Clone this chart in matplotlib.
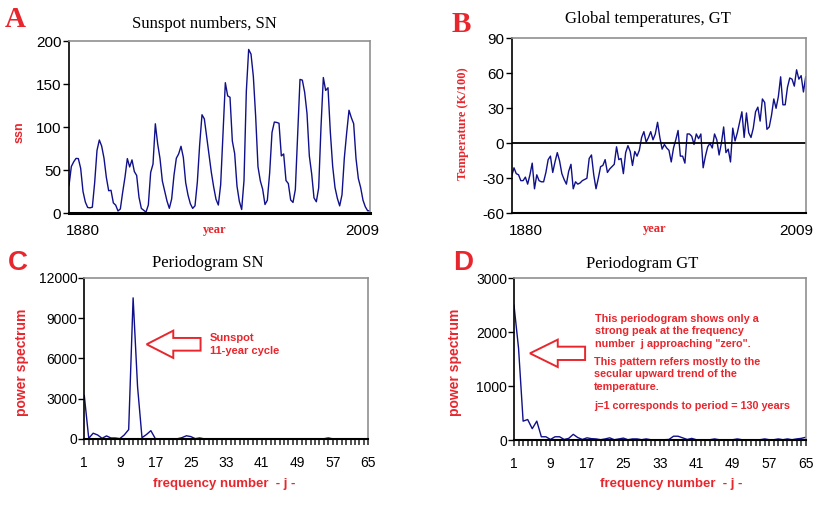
import numpy as np
import matplotlib
matplotlib.use("Agg")
import matplotlib.pyplot as plt
import matplotlib.patches as mpatches
from matplotlib.ticker import MultipleLocator
from matplotlib.transforms import ScaledTranslation

# data
years = np.arange(1880, 2010)
ssn = [32.3, 54.3, 59.7, 63.7, 63.5, 52.2, 25.4, 13.1, 6.8, 6.3,
       7.1, 35.6, 73.0, 85.1, 78.0, 64.0, 41.8, 26.2, 26.7, 12.1,
       9.5, 2.7, 5.0, 24.4, 42.0, 63.5, 53.8, 62.0, 48.5, 43.9,
       18.6, 5.7, 3.6, 1.4, 9.6, 47.4, 57.1, 103.9, 80.6, 63.6,
       37.6, 26.1, 14.2, 5.8, 16.7, 44.3, 63.9, 69.0, 77.8, 64.9,
       35.7, 21.2, 11.1, 5.7, 8.7, 36.1, 79.7, 114.4, 109.6, 88.8,
       67.8, 47.5, 30.6, 16.3, 9.6, 33.2, 92.6, 151.6, 136.3, 134.7,
       83.9, 69.4, 31.5, 13.9, 4.4, 38.0, 141.7, 190.2, 184.8, 159.0,
       112.3, 53.9, 37.6, 27.9, 10.2, 15.1, 47.0, 93.8, 105.9, 105.5,
       104.5, 66.6, 68.9, 38.0, 34.5, 15.5, 12.6, 27.5, 92.5, 155.4,
       154.6, 140.4, 115.9, 66.6, 45.9, 17.9, 13.4, 29.4, 100.2, 157.6,
       142.6, 145.7, 94.3, 54.6, 29.9, 17.5, 8.6, 21.5, 64.3, 93.3,
       119.6, 111.0, 104.0, 63.7, 40.4, 29.8, 15.2, 7.5, 2.9, 3.1]
gt = [-28, -21, -26, -27, -32, -32, -29, -35, -27, -17,
      -39, -27, -32, -33, -33, -25, -14, -11, -25, -16,
      -8, -15, -26, -31, -35, -24, -18, -39, -33, -35,
      -34, -32, -31, -30, -13, -10, -27, -39, -30, -20,
      -19, -14, -25, -22, -20, -18, -3, -14, -13, -26,
      -8, -2, -7, -19, -7, -11, -6, 5, 10, 1,
      5, 10, 3, 8, 18, 5, -5, -1, -4, -6,
      -16, -4, 3, 11, -11, -11, -17, 8, 8, 6,
      -1, 8, 4, 8, -21, -11, -3, 0, -4, 8,
      3, -10, 0, 14, -8, -5, -16, 13, 2, 9,
      18, 27, 5, 26, 9, 5, 13, 27, 31, 19,
      38, 35, 12, 14, 24, 38, 30, 40, 57, 33,
      33, 48, 56, 55, 49, 63, 55, 58, 44, 57]

freq = np.arange(1, 66)
p_sn = [3230, 50, 430, 300, 50, 230, 75, 75, 25, 300,
        700, 10500, 3900, 100, 330, 620, 30, 10, 10, 5,
        10, 20, 100, 240, 180, 25, 80, 10, 5, 10,
        5, 5, 10, 5, 5, 10, 5, 5, 10, 5,
        5, 10, 5, 5, 10, 5, 5, 10, 5, 5,
        10, 5, 5, 10, 20, 80, 10, 5, 5, 10,
        5, 5, 10, 5, 5]
p_gt = [2500, 1700, 350, 380, 210, 350, 60, 60, 10, 60,
        60, 10, 30, 105, 45, 10, 40, 25, 20, 5,
        20, 40, 5, 20, 35, 5, 20, 20, 5, 20,
        5, 5, 5, 5, 10, 70, 70, 40, 10, 30,
        5, 5, 5, 5, 20, 5, 5, 5, 5, 20,
        5, 5, 5, 5, 5, 20, 5, 5, 20, 5,
        20, 5, 20, 30, 50]

W, H = 830, 505
RED = '#e8262d'
NAVY = '#10108a'
SANS = ['Liberation Sans', 'DejaVu Sans']
SERIF = ['Liberation Serif', 'DejaVu Serif']
plt.rcParams['font.family'] = SANS
plt.rcParams['axes.unicode_minus'] = False

fig = plt.figure(figsize=(W / 100, H / 100), dpi=100)


def box(l, r, t, b):
    return [l / W, 1 - b / H, (r - l) / W, (b - t) / H]


def ftext(x, y, s, **kw):
    fig.text(x / W, 1 - y / H, s, **kw)


def frame(ax):
    for s in ['top', 'right']:
        ax.spines[s].set_color('#909090')
        ax.spines[s].set_linewidth(1.2)
    ax.spines['left'].set_linewidth(1.2)
    ax.spines['bottom'].set_linewidth(1.5)


# A - sunspots
axA = fig.add_axes(box(69, 370, 41, 213.3))
axA.plot(years, ssn, color=NAVY, lw=1.0)
axA.set_xlim(1880, 2009)
axA.set_ylim(0, 200)
axA.set_yticks(np.arange(0, 201, 50))
axA.set_xticks([1880, 2009])
frame(axA)
axA.spines['bottom'].set_linewidth(2.2)

# B - global temperature
axB = fig.add_axes(box(511.7, 805.7, 38.3, 213.3))
axB.plot(years, gt, color=NAVY, lw=1.0)
axB.axhline(0, color='black', lw=1.3)
axB.set_xlim(1880, 2009)
axB.set_ylim(-60, 90)
axB.set_yticks(np.arange(-60, 91, 30))
axB.set_xticks([1880, 2009])
frame(axB)

for ax, shift in ((axA, -7.5), (axB, -9)):
    ax.tick_params(axis='y', direction='out', length=4, width=1, pad=1.5,
                   labelsize=11)
    ax.tick_params(axis='x', length=0, pad=8, labelsize=11)
    labs = ax.get_xticklabels()
    labs[0].set_ha('left')
    labs[0].set_transform(labs[0].get_transform() +
                          ScaledTranslation(-3 / 100, 0, fig.dpi_scale_trans))
    labs[1].set_transform(labs[1].get_transform() +
                          ScaledTranslation(shift / 100, 0, fig.dpi_scale_trans))

# C - periodogram SN
axC = fig.add_axes(box(84.3, 368.3, 277.7, 439))
axC.plot(freq, p_sn, color=NAVY, lw=1.0)
axC.set_xlim(1, 65)
axC.set_ylim(0, 12000)
axC.set_yticks(np.arange(0, 12001, 3000))
axC.set_xticks(np.arange(1, 66, 8))
frame(axC)

# D - periodogram GT
axD = fig.add_axes(box(514, 805.7, 278.3, 440))
axD.plot(freq, p_gt, color=NAVY, lw=1.0)
axD.set_xlim(1, 65)
axD.set_ylim(0, 3000)
axD.set_yticks(np.arange(0, 3001, 1000))
axD.set_xticks(np.arange(1, 66, 8))
frame(axD)

for ax in (axC, axD):
    ax.xaxis.set_minor_locator(MultipleLocator(1))
    ax.tick_params(axis='y', direction='out', length=4, width=1, pad=1,
                   labelsize=10)
    ax.tick_params(axis='x', which='both', direction='out', length=4,
                   width=1.2, color='#333333', pad=8, labelsize=10)

# open block arrows
axC.add_patch(mpatches.FancyArrow(27.2, 7045, -12.15, 0, width=945,
                                  head_width=2030, head_length=6.0,
                                  length_includes_head=True, fill=False,
                                  edgecolor=RED, lw=1.4))
axD.add_patch(mpatches.FancyArrow(16.6, 1608, -12.1, 0, width=247,
                                  head_width=508, head_length=6.1,
                                  length_includes_head=True, fill=False,
                                  edgecolor=RED, lw=1.4))

# panel letters
ftext(5, 26.7, 'A', family=SERIF, weight='bold', size=21, color=RED)
ftext(452, 32, 'B', family=SERIF, weight='bold', size=21, color=RED)
ftext(8, 270, 'C', family=SANS, weight='bold', size=20, color=RED)
ftext(453, 270, 'D', family=SANS, weight='bold', size=20, color=RED)

# titles
ftext(204.5, 28.3, 'Sunspot numbers, SN', family=SERIF, size=12, ha='center')
ftext(647.5, 23.3, 'Global temperatures, GT', family=SERIF, size=12, ha='center')
ftext(207.5, 266.7, 'Periodogram SN', family=SERIF, size=12, ha='center')
ftext(641.7, 268.3, 'Periodogram GT', family=SERIF, size=12, ha='center')

# axis labels
ftext(20, 132, 'ssn', family=SANS, weight='bold', size=9, color=RED,
      rotation=90, ha='center', va='center')
ftext(215, 230, 'year', family=SERIF, weight='bold', size=9, color=RED,
      ha='center', va='center')
ftext(463, 124, 'Temperature (K/100)', family=SERIF, weight='bold', size=9,
      color=RED, rotation=90, ha='center', va='center')
ftext(655, 229, 'year', family=SERIF, weight='bold', size=9, color=RED,
      ha='center', va='center')
for x0, x1 in ((21.7, 223.7), (455, 671)):
    ftext(x0, 362, 'power spectrum', family=SANS, weight='bold', size=10,
          color=RED, rotation=90, ha='center', va='center')
    ftext(x1, 484.5, 'frequency number  - j -', family=SANS, weight='bold',
          size=9.5, color=RED, ha='center', va='center')

# annotations
ftext(210, 338, 'Sunspot', family=SANS, weight='bold', size=8, color=RED,
      va='center')
ftext(210, 350.7, '11-year cycle', family=SANS, weight='bold', size=8,
      color=RED, va='center')
notes = ['This periodogram shows only a',
         'strong peak at the frequency',
         'number  j approaching "zero".',
         'This pattern refers mostly to the',
         'secular upward trend of the',
         'temperature.',
         'j=1 corresponds to period = 130 years']
note_y = [319, 331.5, 344.3, 361.7, 374.3, 386.7, 405.7]
note_x = [595, 595, 595, 594, 594, 594, 594]
for s, x, y in zip(notes, note_x, note_y):
    ftext(x, y, s, family=SANS, weight='bold', size=7.8, color=RED,
          va='center')

fig.savefig('out.png', dpi=100)
